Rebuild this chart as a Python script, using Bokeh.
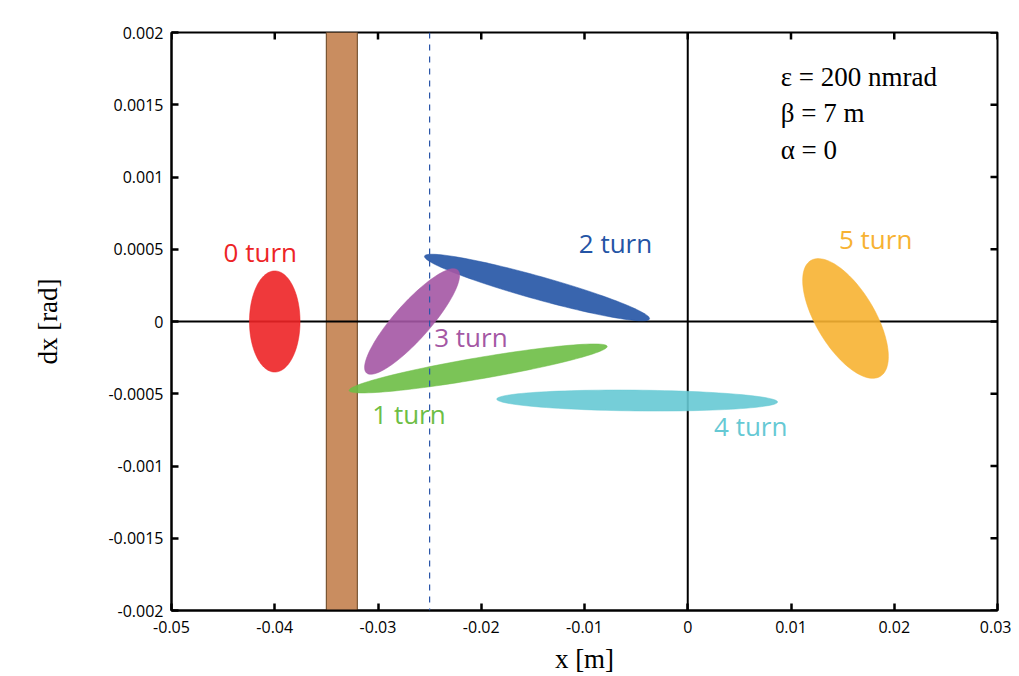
import numpy as np
from bokeh.plotting import figure
from bokeh.models import Range1d, FixedTicker, Span, ColumnDataSource
from bokeh.core.properties import value
from bokeh.embed import file_html
from bokeh.resources import INLINE

# ---------------- data ----------------
x_ticks = [-0.05, -0.04, -0.03, -0.02, -0.01, 0.0, 0.01, 0.02, 0.03]
x_tick_labels = ["-0.05", "-0.04", "-0.03", "-0.02", "-0.01", "0", "0.01", "0.02", "0.03"]
y_ticks = [0.002, 0.0015, 0.001, 0.0005, 0.0, -0.0005, -0.001, -0.0015, -0.002]
y_tick_labels = ["0.002", "0.0015", "0.001", "0.0005", "0", "-0.0005", "-0.001", "-0.0015", "-0.002"]

turn_names = ["0 turn", "1 turn", "2 turn", "3 turn", "4 turn", "5 turn"]
# beam-cloud centre, half extent in x, y offset at the right tip, half thickness
cloud_cx = [-0.0400, -0.0203, -0.0146, -0.0267, -0.0049, 0.01528]
cloud_cy = [0.0, -0.000325, 0.000235, 0.0, -0.000547, 0.000021]
cloud_ax = [0.00245, 0.0125, 0.0109, 0.0046, 0.0136, 0.00415]
cloud_tip_dy = [0.0, 0.000152, -0.000215, 0.000318, -0.00001, -0.000263]
cloud_half_th = [0.00035, 0.000075, 0.000083, 0.00018, 0.000072, 0.00032]

label_x = [-0.0414, -0.0270, -0.0070, -0.0210, 0.0061, 0.0182]
label_y = [0.000478, -0.000637, 0.00054, -0.000104, -0.00072, 0.000574]

wall_left = [-0.035]
wall_right = [-0.032]
aperture_x = -0.025

info_lines = ["ε = 200 nmrad", "β = 7 m", "α = 0"]
info_x = [0.0090, 0.0090, 0.0090]
info_y = [0.00169, 0.00144, 0.00119]

# ---------------- styling ----------------
colors = ["#ED2426", "#6DBE45", "#2454A5", "#A457A4", "#66C9D4", "#F7B232"]
sans = "Open Sans"
serif = "Liberation Serif"

p = figure(width=1011, height=676, output_backend="svg", toolbar_location=None,
           x_range=Range1d(-0.05, 0.03), y_range=Range1d(-0.002, 0.002),
           min_border_left=171, min_border_right=14, min_border_top=32, min_border_bottom=66)
p.grid.visible = False
p.outline_line_color = "black"
p.outline_line_width = 2
p.background_fill_color = "white"

for ax in [p.xaxis[0], p.yaxis[0]]:
    ax.major_tick_in = 7
    ax.major_tick_out = 0
    ax.minor_tick_line_color = None
    ax.major_tick_line_width = 2.5
    ax.axis_line_width = 2
    ax.major_label_text_font = sans
    ax.major_label_text_font_size = "16px"
    ax.major_label_text_color = "black"
    ax.axis_label_text_font = serif
    ax.axis_label_text_font_size = "27px"
    ax.axis_label_text_font_style = "normal"
    ax.axis_label_text_color = "black"

p.xaxis.ticker = FixedTicker(ticks=x_ticks)
p.xaxis.major_label_overrides = {t: l for t, l in zip(x_ticks, x_tick_labels)}
p.yaxis.ticker = FixedTicker(ticks=y_ticks)
p.yaxis.major_label_overrides = {t: l for t, l in zip(y_ticks, y_tick_labels)}
p.xaxis.axis_label = "x [m]"
p.yaxis.axis_label = "dx [rad]"
p.xaxis.major_label_standoff = 10
p.yaxis.major_label_standoff = 8
p.xaxis.axis_label_standoff = 8
p.yaxis.axis_label_standoff = 42

# inward ticks on the top and right frame edges (clipped to the frame)
p.scatter(x=x_ticks, y=[p.y_range.end] * len(x_ticks), marker="dash", size=14,
          angle=np.pi / 2, line_color="black", line_width=2.5)
p.scatter(x=[p.x_range.end] * len(y_ticks), y=y_ticks, marker="dash", size=14,
          line_color="black", line_width=2.5)

# collimator wall
wall = p.quad(left=wall_left, right=wall_right, top=[p.y_range.end], bottom=[p.y_range.start],
              fill_color="#C98D60", line_color="#7A5634", line_width=1.2)
wall.level = "underlay"

# zero lines
p.add_layout(Span(location=0, dimension="width", line_color="black", line_width=2, level="underlay"))
p.add_layout(Span(location=0, dimension="height", line_color="black", line_width=2, level="underlay"))

# beam clouds
t = np.linspace(0, 2 * np.pi, 120)
xs, ys = [], []
for cx, cy, a, b, c in zip(cloud_cx, cloud_cy, cloud_ax, cloud_tip_dy, cloud_half_th):
    xs.append(cx + a * np.cos(t))
    ys.append(cy + b * np.cos(t) + c * np.sin(t))
p.patches(xs=xs, ys=ys, fill_color=colors, line_color=colors, fill_alpha=0.9,
          line_alpha=0.5, line_width=1)

# aperture dashed line
p.add_layout(Span(location=aperture_x, dimension="height", line_color="#2A55A8",
                  line_width=1.2, line_dash="6 6"))

# turn labels
src = ColumnDataSource(dict(x=label_x, y=label_y, text=turn_names, color=colors))
p.text(x="x", y="y", text="text", text_color="color", source=src,
       text_font=value(sans), text_font_size="26px", text_align="center",
       text_baseline="middle")

# info text
p.text(x=info_x, y=info_y, text=info_lines, text_font=value(serif),
       text_font_size="27px", text_align="left", text_baseline="middle", text_color="black")

open("out.html", "w").write(file_html(p, INLINE))
